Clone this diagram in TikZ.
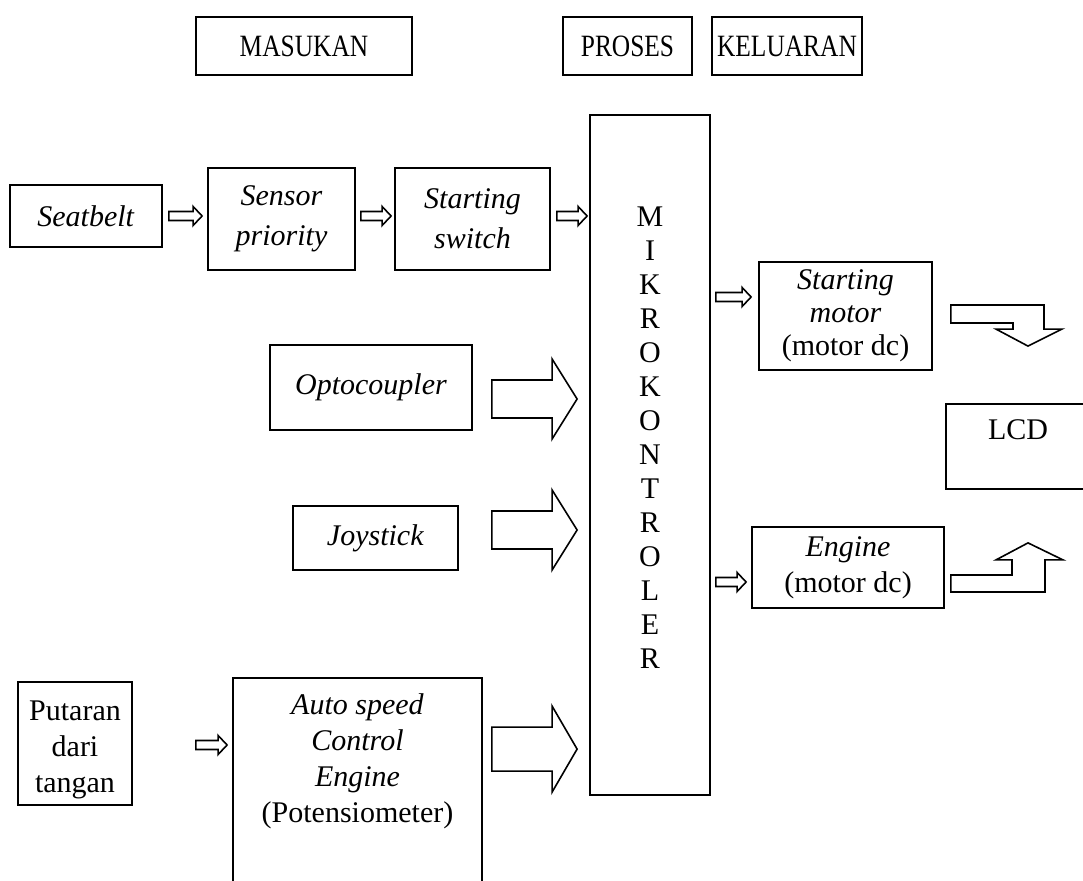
\documentclass[tikz,border=0pt]{standalone}
\usepackage{fontspec}
\setmainfont{Liberation Serif}
\newfontfamily\hdrfont[FakeStretch=0.82]{Liberation Serif}
\usetikzlibrary{calc}
\newcommand{\harrow}[5]{%
  \draw[blk] ($(#1)+(0,-#3)$) -- ($(#2)+(-#5,-#3)$) -- ($(#2)+(-#5,-#4)$) -- (#2)
    -- ($(#2)+(-#5,#4)$) -- ($(#2)+(-#5,#3)$) -- ($(#1)+(0,#3)$) -- cycle;}
\begin{document}
\begin{tikzpicture}[x=0.5pt,y=-0.5pt,
  box/.style={draw, line width=0.9pt, inner sep=0pt, align=center,
    font=\fontsize{15}{18}\selectfont},
  hdr/.style={box, minimum height=29pt, font=\hdrfont\fontsize{15.5}{18}\selectfont},
  blk/.style={draw, line width=0.8pt, fill=white, line join=miter}]
\useasboundingbox (0,0) rectangle (1083,881);
% header
\node[hdr, minimum width=108pt] (mas) at (304,46) {MASUKAN};
\node[hdr, minimum width=64.5pt] (pro) at (627.5,46) {PROSES};
\node[hdr, minimum width=75pt] (kel) at (787,46) {KELUARAN};
% input chain
\node[box, minimum width=76pt, minimum height=31pt] (seat) at (86,216) {\textit{Seatbelt}};
\node[box, minimum width=73.5pt, minimum height=51pt, font=\fontsize{15}{20}\selectfont] (sens) at (281.5,219) {\textit{Sensor}\\\textit{priority}};
\node[box, minimum width=77.5pt, minimum height=51pt, font=\fontsize{15}{20}\selectfont] (sw) at (472.5,219) {\textit{Starting}\\\textit{switch}};
% microcontroller
\node[box, minimum width=60pt, minimum height=340pt, font=\fontsize{15}{17}\selectfont] (mik) at (650,455)
  {M\\I\\K\\R\\O\\K\\O\\N\\T\\R\\O\\L\\E\\R\\[-5pt]\strut};
% other inputs
\node[box, minimum width=101pt, minimum height=42.5pt] (opto) at (371,387.5) {\textit{Optocoupler}};
\node[box, minimum width=82.5pt, minimum height=32pt] (joy) at (375.5,538) {\textit{Joystick}};
\node[box, minimum width=57pt, minimum height=61.5pt] (put) at (75,743.5)
  {\raisebox{-6.5pt}[0pt][0pt]{\begin{tabular}{@{}c@{}}Putaran\\dari\\tangan\end{tabular}}};
\node[box, minimum width=124.5pt, minimum height=111pt] (auto) at (357.5,789)
  {\textit{Auto speed}\\\textit{Control}\\\textit{Engine}\\(Potensiometer)\\[8pt]\strut};
% outputs
\node[box, minimum width=86.5pt, minimum height=54pt, font=\fontsize{15}{16.5}\selectfont] (sm) at (845.5,316) {\textit{Starting}\\\textit{motor}\\(motor dc)};
\node[box, minimum width=96pt, minimum height=40.5pt] (eng) at (848,567.5) {\textit{Engine}\\(motor dc)};
\node[box, minimum width=72pt, minimum height=42.5pt] (lcd) at (1018,446.5) {LCD\\[-6pt]\strut};
% small arrows
\coordinate (a1s) at ($(seat.east)+(6,0)$);
\coordinate (a1e) at ($(sens.west |- a1s)+(-5,0)$);
\harrow{a1s}{a1e}{4.5}{9.5}{9}
\coordinate (a2s) at ($(sens.east |- a1s)+(5,0)$);
\coordinate (a2e) at ($(sw.west |- a1s)+(-3,0)$);
\harrow{a2s}{a2e}{4.5}{9.5}{9}
\coordinate (a3s) at ($(sw.east |- a1s)+(6,0)$);
\coordinate (a3e) at ($(mik.west |- a1s)+(-2,0)$);
\harrow{a3s}{a3e}{4.5}{9.5}{9}
\coordinate (a4s) at ($(mik.east |- sm.west)+(5,-19)$);
\coordinate (a4e) at ($(sm.west |- a4s)+(-7,0)$);
\harrow{a4s}{a4e}{4.5}{9.5}{9}
\coordinate (a5s) at ($(mik.east |- eng.west)+(5,14.5)$);
\coordinate (a5e) at ($(eng.west |- a5s)+(-5,0)$);
\harrow{a5s}{a5e}{4.5}{9.5}{9}
\coordinate (a6s) at ($(put.east)+(63,1.5)$);
\coordinate (a6e) at ($(auto.west |- a6s)+(-5,0)$);
\harrow{a6s}{a6e}{4.5}{9.5}{9}
% big arrows
\coordinate (b1s) at ($(opto.east)+(19,11.5)$);
\coordinate (b1e) at ($(mik.west |- b1s)+(-12,0)$);
\harrow{b1s}{b1e}{19}{40}{25}
\coordinate (b2s) at ($(joy.east)+(33,-8)$);
\coordinate (b2e) at ($(mik.west |- b2s)+(-12,0)$);
\harrow{b2s}{b2e}{19}{40}{25}
\coordinate (b3s) at ($(auto.east |- auto.north)+(9,72)$);
\coordinate (b3e) at ($(mik.west |- b3s)+(-12,0)$);
\harrow{b3s}{b3e}{22}{43}{25}
% bent arrows to LCD
\coordinate (smA) at ($(sm.east)+(18,0)$);
\coordinate (smT) at ($(lcd.north)+(10,-57)$);
\draw[blk] ($(smA)+(0,-11)$) -| ($(smT)+(16,-17)$) -- ++(18,0) -- (smT) -- ++(-32,-17)
  -- ++(17,0) |- ($(smA)+(0,7)$) -- cycle;
\coordinate (eA) at ($(eng.east)+(6,16)$);
\coordinate (eT) at ($(lcd.south)+(10,53)$);
\draw[blk] ($(eA)+(0,8.5)$) -| ($(eT)+(17,17)$) -- ++(18,0) -- (eT) -- ++(-32,17)
  -- ++(16,0) |- ($(eA)+(0,-8.5)$) -- cycle;
\end{tikzpicture}
\end{document}
